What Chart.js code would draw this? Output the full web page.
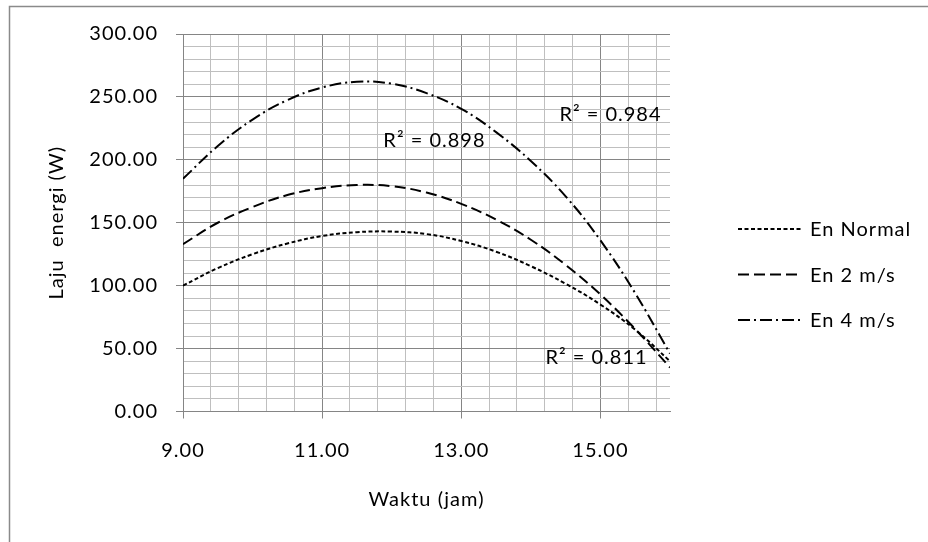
<!DOCTYPE html>
<html><head><meta charset="utf-8">
<script src="https://cdn.jsdelivr.net/npm/chart.js@4/dist/chart.umd.min.js"></script>
<style>html,body{margin:0;padding:0;background:#fff}#wrap{width:928px;height:542px;position:relative}</style>
</head><body><div id="wrap"><canvas id="c"></canvas></div>
<script>
// ---- data ----
const hours    = [9, 9.5, 10, 10.5, 11, 11.5, 12, 12.5, 13, 13.5, 14, 14.5, 15, 15.5, 16];
const enNormal = [100, 114, 125, 133.5, 139.5, 142.5, 143, 141, 135.5, 127, 115.5, 101.5, 85, 65, 40];
const en2ms    = [133, 150, 162.5, 172, 177.5, 180, 179, 174, 165, 152.5, 136.5, 116.5, 93, 65.5, 35];
const en4ms    = [185, 211, 232, 247.5, 257.5, 262, 260.5, 253, 240.5, 222, 199, 171, 136, 94, 46];
const seriesNames = ['En Normal', 'En 2 m/s', 'En 4 m/s'];
const xMajorTicks = [9, 11, 13, 15];
const yMajorTicks = [0, 50, 100, 150, 200, 250, 300];
const r2Values = ['0.898', '0.984', '0.811'];

const FONT = {family: 'Lato', size: 20};
const MAJOR = '#858585', MINOR = '#bfbfbf';
const near = (a, arr) => arr.some(b => Math.abs(a - b) < 1e-6);

const spacing = {
  id: 'spacing',
  beforeLayout(chart) { chart.ctx.letterSpacing = '1px'; },
  beforeDraw(chart) {
    const c = chart.ctx;
    c.letterSpacing = '1px';
    c.save();
    c.fillStyle = '#fff';
    c.fillRect(0, 0, chart.width, chart.height);
    c.strokeStyle = '#8a8a8a';
    c.lineWidth = 1.5;
    c.strokeRect(9.5, 6.5, 1000, 600);
    c.restore();
  }
};

const extras = {
  id: 'extras',
  afterDraw(chart) {
    const c = chart.ctx, xs = chart.scales.x, ys = chart.scales.y;
    c.save();
    c.letterSpacing = '1px';
    c.font = '20px Lato';
    c.fillStyle = '#000';
    c.textBaseline = 'middle';
    c.textAlign = 'left';
    // R² annotations, anchored in data coordinates
    const anchors = [[11.88, 215.6], [14.41, 235.6], [14.21, 42.5]];
    r2Values.forEach((v, i) => {
      c.fillText('R² = ' + v, xs.getPixelForValue(anchors[i][0]), ys.getPixelForValue(anchors[i][1]));
    });
    // legend
    chart.data.datasets.forEach((ds, i) => {
      const y = 229 + 45.5 * i;
      c.save();
      c.strokeStyle = '#000';
      c.lineWidth = ds.borderWidth;
      c.setLineDash(ds.borderDash);
      c.beginPath();
      c.moveTo(738, y); c.lineTo(802, y);
      c.stroke();
      c.restore();
      c.fillText(ds.label, 810, y + 1);
    });
    c.restore();
  }
};

const mk = (label, vals, dash) => ({
  label, data: hours.map((h, i) => ({x: h, y: vals[i]})),
  borderColor: '#000', borderWidth: 2, borderDash: dash,
  pointRadius: 0, tension: 0.4, fill: false
});

new Chart(document.getElementById('c'), {
  type: 'line',
  data: {datasets: [
    mk(seriesNames[0], enNormal, [4, 2.5]),
    mk(seriesNames[1], en2ms, [11, 5]),
    mk(seriesNames[2], en4ms, [12, 4, 2, 4])
  ]},
  options: {
    responsive: true, maintainAspectRatio: false, animation: false,
    layout: {padding: {top: 34, bottom: 30, left: 0, right: 258}},
    plugins: {legend: {display: false}, tooltip: {enabled: false}},
    scales: {
      x: {
        type: 'linear', min: 9, max: 16,
        afterBuildTicks(s) {
          const t = [];
          for (let k = 0; 9 + 0.4 * k <= 16 + 1e-9; k++) t.push({value: +(9 + 0.4 * k).toFixed(2)});
          s.ticks = t;
        },
        ticks: {autoSkip: false, maxRotation: 0, padding: 20, color: '#000', font: FONT,
          callback: v => near(v, xMajorTicks) ? v.toFixed(2) : ''},
        grid: {
          color: ctx => ctx.tick && near(ctx.tick.value, xMajorTicks) ? MAJOR : MINOR,
          tickColor: ctx => ctx.tick && near(ctx.tick.value, xMajorTicks) ? MAJOR : 'rgba(0,0,0,0)',
          tickLength: 7, lineWidth: 1
        },
        border: {color: MAJOR, width: 1},
        title: {display: true, text: 'Waktu (jam)', color: '#000', font: FONT, padding: {top: 0, bottom: 0}},
        afterFit(s) { s.height = 100.5; }
      },
      y: {
        min: 0, max: 300,
        ticks: {stepSize: 10, autoSkip: false, padding: 18, color: '#000', font: FONT,
          callback: v => near(v, yMajorTicks) ? v.toFixed(2) : ''},
        grid: {
          color: ctx => ctx.tick && near(ctx.tick.value, yMajorTicks) ? MAJOR : MINOR,
          tickColor: ctx => ctx.tick && near(ctx.tick.value, yMajorTicks) ? MAJOR : 'rgba(0,0,0,0)',
          tickLength: 7, lineWidth: 1
        },
        border: {color: MAJOR, width: 1},
        title: {display: true, text: 'Laju  energi (W)', color: '#000', font: FONT, padding: {top: 45, bottom: 0}},
        afterFit(s) { s.width = 183; }
      }
    }
  },
  plugins: [spacing, extras]
});
</script></body></html>
